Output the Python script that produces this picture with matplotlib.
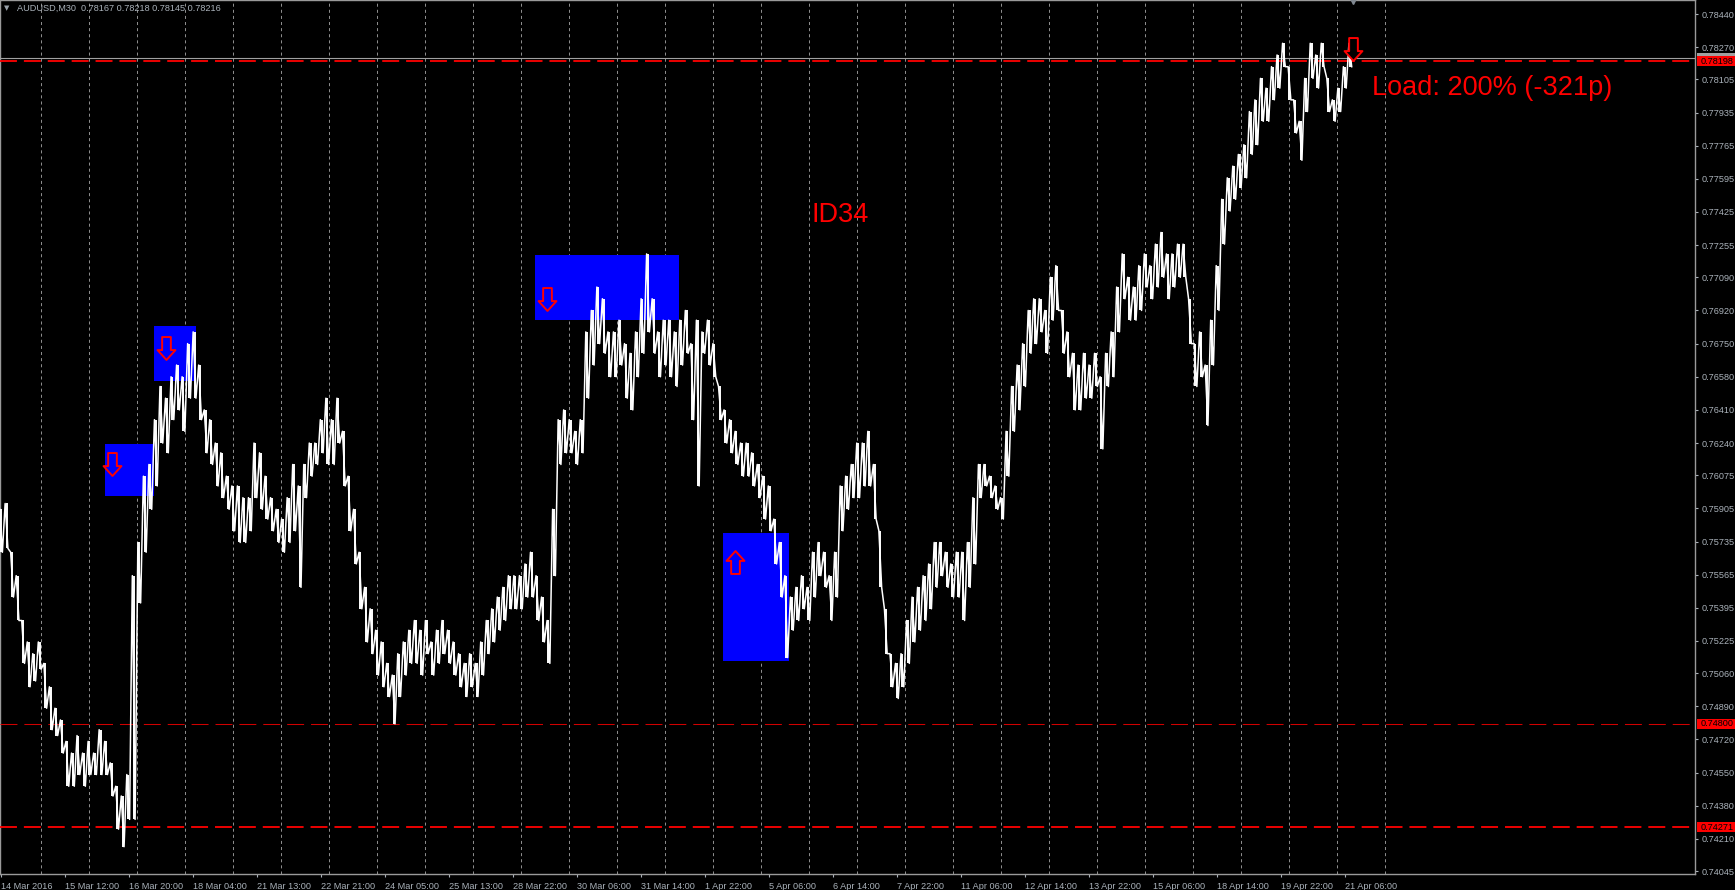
import numpy as np
import matplotlib
matplotlib.use("Agg")
import matplotlib.pyplot as plt
from matplotlib.path import Path
from matplotlib.patches import Rectangle

plt.rcParams["font.family"] = ["Liberation Sans", "DejaVu Sans"]
plt.rcParams["lines.scale_dashes"] = False

# AUDUSD M30, high / low every ~5.5 bars
BAR_STEP = 5.53
highs = [
    .7590, .7593, .7568, .7556, .7533, .7522, .7516, .7522, .7511, .7499,
    .7488, .7482, .7471, .7465, .7474, .7465, .7471, .7465, .7477, .7471,
    .7460, .7448, .7443, .7454, .7556, .7573, .7607, .7613, .7636, .7653,
    .7647, .7658, .7664, .7658, .7675, .7681, .7664, .7641, .7636, .7624,
    .7619, .7607, .7602, .7602, .7596, .7596, .7624, .7619, .7607, .7596,
    .7590, .7585, .7596, .7613, .7602, .7613, .7624, .7624, .7636, .7647,
    .7636, .7647, .7630, .7607, .7590, .7568, .7550, .7539, .7528, .7522,
    .7511, .7505, .7516, .7522, .7528, .7533, .7528, .7533, .7522, .7528,
    .7533, .7528, .7522, .7516, .7511, .7516, .7511, .7522, .7533, .7539,
    .7545, .7550, .7556, .7556, .7556, .7562, .7568, .7556, .7545, .7533,
    .7590, .7636, .7641, .7636, .7630, .7636, .7681, .7692, .7704, .7698,
    .7681, .7681, .7687, .7675, .7670, .7681, .7698, .7721, .7698, .7681,
    .7687, .7687, .7681, .7687, .7692, .7675, .7687, .7681, .7687, .7675,
    .7653, .7641, .7636, .7630, .7624, .7624, .7619, .7613, .7607, .7602,
    .7585, .7573, .7556, .7545, .7550, .7556, .7550, .7568, .7573, .7568,
    .7556, .7568, .7602, .7607, .7613, .7624, .7624, .7630, .7613, .7579,
    .7539, .7516, .7511, .7516, .7533, .7545, .7550, .7556, .7562, .7573,
    .7573, .7568, .7562, .7568, .7568, .7573, .7596, .7613, .7613, .7607,
    .7602, .7596, .7630, .7653, .7664, .7675, .7692, .7698, .7698, .7692,
    .7709, .7715, .7692, .7681, .7670, .7664, .7670, .7664, .7670, .7658,
    .7670, .7681, .7704, .7721, .7709, .7704, .7715, .7721, .7715, .7726,
    .7732, .7721, .7721, .7726, .7726, .7698, .7675, .7681, .7664, .7687,
    .7715, .7749, .7760, .7766, .7772, .7777, .7794, .7800, .7811, .7806,
    .7817, .7823, .7829, .7817, .7800, .7789, .7811, .7829, .7823, .7829,
    .7811, .7800, .7806, .7817, .7829,
]
lows = [
    .7568, .7570, .7545, .7533, .7511, .7499, .7502, .7508, .7488, .7477,
    .7474, .7465, .7448, .7448, .7454, .7448, .7454, .7454, .7454, .7454,
    .7443, .7426, .7417, .7431, .7431, .7542, .7568, .7590, .7602, .7624,
    .7619, .7636, .7641, .7630, .7647, .7647, .7636, .7619, .7613, .7602,
    .7596, .7590, .7579, .7573, .7573, .7579, .7596, .7590, .7585, .7579,
    .7573, .7568, .7573, .7579, .7550, .7596, .7607, .7613, .7619, .7613,
    .7613, .7624, .7602, .7579, .7562, .7539, .7522, .7516, .7505, .7499,
    .7494, .7480, .7494, .7505, .7511, .7511, .7505, .7516, .7505, .7511,
    .7516, .7511, .7505, .7499, .7494, .7499, .7494, .7505, .7516, .7522,
    .7528, .7533, .7539, .7539, .7539, .7545, .7545, .7533, .7522, .7511,
    .7556, .7613, .7619, .7619, .7613, .7619, .7647, .7664, .7675, .7670,
    .7658, .7658, .7664, .7647, .7641, .7658, .7670, .7681, .7670, .7658,
    .7664, .7658, .7653, .7664, .7670, .7636, .7602, .7670, .7664, .7658,
    .7636, .7624, .7619, .7613, .7607, .7607, .7602, .7596, .7585, .7579,
    .7562, .7545, .7514, .7528, .7533, .7539, .7533, .7545, .7556, .7550,
    .7533, .7545, .7579, .7590, .7596, .7596, .7602, .7602, .7585, .7550,
    .7516, .7499, .7493, .7499, .7511, .7522, .7528, .7533, .7539, .7550,
    .7556, .7550, .7545, .7545, .7533, .7550, .7562, .7596, .7602, .7596,
    .7590, .7585, .7607, .7630, .7641, .7653, .7670, .7675, .7681, .7670,
    .7687, .7692, .7670, .7658, .7641, .7641, .7647, .7647, .7653, .7621,
    .7653, .7658, .7681, .7698, .7687, .7687, .7692, .7704, .7698, .7704,
    .7709, .7698, .7704, .7709, .7709, .7675, .7653, .7658, .7633, .7664,
    .7692, .7726, .7743, .7749, .7755, .7760, .7772, .7777, .7789, .7789,
    .7800, .7806, .7817, .7800, .7783, .7769, .7794, .7811, .7806, .7817,
    .7794, .7789, .7794, .7806, .7817,
]

date_labels = [
    "14 Mar 2016", "15 Mar 12:00", "16 Mar 20:00", "18 Mar 04:00", "21 Mar 13:00",
    "22 Mar 21:00", "24 Mar 05:00", "25 Mar 13:00", "28 Mar 22:00", "30 Mar 06:00",
    "31 Mar 14:00", "1 Apr 22:00", "5 Apr 06:00", "6 Apr 14:00", "7 Apr 22:00",
    "11 Apr 06:00", "12 Apr 14:00", "13 Apr 22:00", "15 Apr 06:00", "18 Apr 14:00",
    "19 Apr 22:00", "21 Apr 06:00",
]
price_ticks = [
    0.78440, 0.78270, 0.78105, 0.77935, 0.77765, 0.77595, 0.77425, 0.77255,
    0.77090, 0.76920, 0.76750, 0.76580, 0.76410, 0.76240, 0.76075, 0.75905,
    0.75735, 0.75565, 0.75395, 0.75225, 0.75060, 0.74890, 0.74720, 0.74550,
    0.74380, 0.74210, 0.74045,
]

bid = 0.78216
levels = [0.78198, 0.74800, 0.74271]
# zones: first bar, last bar, low price, high price
zones = [
    (104, 153, 0.75970, 0.76235),
    (153, 195, 0.76558, 0.76842),
    (534, 678, 0.76871, 0.77204),
    (722, 788, 0.75122, 0.75777),
]
# signal arrows: bar, price, direction, fill
signals = [
    (111, 0.76130, "down", "#0000ff"),
    (165, 0.76726, "down", "#0000ff"),
    (546, 0.76977, "down", "#0000ff"),
    (734, 0.75628, "up", "#0000ff"),
    (1352, 0.78262, "down", "black"),
]

AX_COL = "#aab2ba"
GRID_COL = "#8c8c8c"

fig = plt.figure(figsize=(17.35, 8.9), dpi=100, facecolor="black")
ax = fig.add_axes([0.0, 16 / 890, 1695 / 1735, 874 / 890], facecolor="black")
ax.set_xlim(-1, 1694)
ax.set_ylim(0.74030, 0.78512)

# daily grid
for gx in np.arange(40, 1390, 48):
    ax.axvline(gx, color=GRID_COL, lw=0.72, dashes=(2.2, 2.2), zorder=1)

# zones and levels
for x0, x1, p0, p1 in zones:
    ax.add_patch(Rectangle((x0, p0), x1 - x0, p1 - p0, color="#0000ff", lw=0, zorder=2))

ax.axhline(bid, color="#a0a0a0", lw=0.8, zorder=3)
for lv, lw, col in zip(levels, [1.3, 0.75, 1.3], ["#ff0000", "#d00000", "#ff0000"]):
    ax.axhline(lv, color=col, lw=lw, dashes=(12.2, 5.0), zorder=3)

# price bars: a vertical stroke per sample plus a high/low zigzag between them
bx = np.arange(len(highs)) * BAR_STEP
ax.vlines(bx, lows, highs, color="white", lw=1.4, zorder=4)
xs, ys = [], []
for x, h, l in zip(bx, highs, lows):
    xs += [x - BAR_STEP / 4, x + BAR_STEP / 4]
    ys += [h, l]
ax.plot(xs, ys, color="white", lw=1.1, zorder=4)

# arrows
down = [(-0.19, 0.5), (0.19, 0.5), (0.19, -0.07), (0.39, -0.07), (0, -0.5),
        (-0.39, -0.07), (-0.19, -0.07), (-0.19, 0.5)]
for sx, p, d, fc in signals:
    verts = down if d == "down" else [(vx, -vy) for vx, vy in down]
    ax.plot(sx, p, marker=Path(verts, closed=True), markersize=16.5,
            markerfacecolor=fc, markeredgecolor="#ff0000", markeredgewidth=1.4,
            zorder=6)

ax.text(810, 0.77375, "ID34", color="#ff0000", fontsize=19.5, va="baseline", zorder=7)
ax.text(1371, 0.78025, "Load: 200% (-321p)", color="#ff0000", fontsize=19.5,
        va="baseline", zorder=7)

# axes styling
for s in ax.spines.values():
    s.set_color("#9a9a9a")
    s.set_linewidth(1)
ax.yaxis.tick_right()
ax.set_yticks(price_ticks)
ax.set_yticklabels([f"{t:.5f}" for t in price_ticks])
ax.tick_params(axis="y", colors=AX_COL, labelsize=6.6, length=2.5, width=0.8, pad=2)
ax.set_xticks(np.arange(0, 64 * len(date_labels), 64))
ax.set_xticklabels(date_labels, ha="left")
ax.tick_params(axis="x", colors=AX_COL, labelsize=6.6, length=2.5, width=0.8, pad=3)

# price labels on the right scale
ytr = ax.get_yaxis_transform()
box_h = 10 / 19500
ax.add_patch(Rectangle((1.001, bid - box_h / 2), 0.025, box_h, transform=ytr,
                       color="#a0a0a0", lw=0, clip_on=False, zorder=8))
for lv in levels:
    ax.add_patch(Rectangle((1.001, lv - box_h / 2), 0.025, box_h, transform=ytr,
                           color="#ff0000", lw=0, clip_on=False, zorder=9))
    ax.text(1.0035, lv, f"{lv:.5f}", transform=ytr, color="black", fontsize=6.6,
            va="center", ha="left", zorder=10, clip_on=False)

# header and shift marker
fig.text(4 / 1735, 1 - 8 / 890, "\u25bc", color="#9aa2aa", fontsize=5, va="center",
         family="DejaVu Sans")
fig.text(17 / 1735, 1 - 8 / 890, "AUDUSD,M30  0.78167 0.78218 0.78145 0.78216",
         color=AX_COL, fontsize=6.6, va="center")
ax.plot(1352, 0.78512, marker="v", markersize=6, color="#808890", clip_on=False, zorder=8)

fig.savefig("out.png", dpi=100, facecolor="black")
